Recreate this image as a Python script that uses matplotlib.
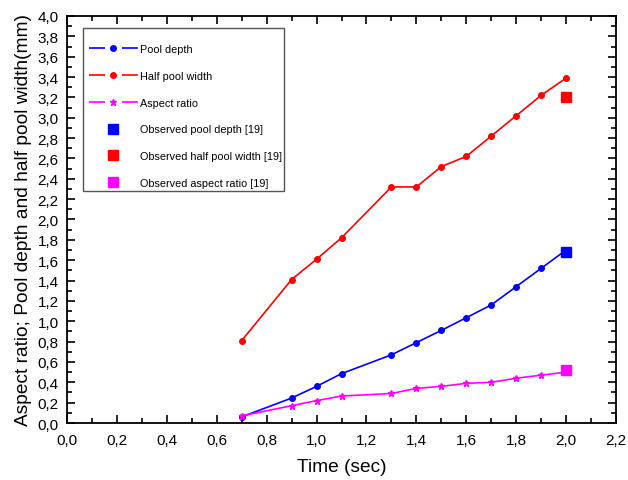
import numpy as np
import matplotlib
matplotlib.use("Agg")
import matplotlib.pyplot as plt
from matplotlib.patches import Rectangle
from matplotlib.ticker import MultipleLocator, FuncFormatter

plt.rcParams['font.family'] = ['Liberation Sans', 'DejaVu Sans']

# simulated values
time = [0.7, 0.9, 1.0, 1.1, 1.3, 1.4, 1.5, 1.6, 1.7, 1.8, 1.9, 2.0]
pool_depth = [0.06, 0.245, 0.36, 0.485, 0.67, 0.79, 0.91, 1.035, 1.16, 1.34, 1.52, 1.70]
half_width = [0.81, 1.41, 1.61, 1.82, 2.32, 2.32, 2.52, 2.62, 2.82, 3.02, 3.22, 3.39]
aspect = [0.07, 0.17, 0.22, 0.265, 0.29, 0.34, 0.36, 0.39, 0.40, 0.44, 0.47, 0.50]

# observed values [19]
obs_time = [2.0]
obs_depth = [1.68]
obs_width = [3.2]
obs_aspect = [0.52]

fig = plt.figure(figsize=(6.28, 4.81), dpi=100)
ax = fig.add_axes([0.1067, 0.1185, 0.8742, 0.8462])

ax.plot(time, pool_depth, '-o', color='#0000ff', lw=1.2, ms=4, label='Pool depth')
ax.plot(time, half_width, '-o', color='#ff0000', lw=1.2, ms=4, label='Half pool width')
ax.plot(time, aspect, '-*', color='#ff00ff', lw=1.2, ms=5, label='Aspect ratio')
ax.plot(obs_time, obs_depth, 's', color='#0000ff', ms=7, ls='none', label='Observed pool depth [19]')
ax.plot(obs_time, obs_width, 's', color='#ff0000', ms=7, ls='none', label='Observed half pool width [19]')
ax.plot(obs_time, obs_aspect, 's', color='#ff00ff', ms=7, ls='none', label='Observed aspect ratio [19]')

ax.set_xlim(0, 2.2)
ax.set_ylim(0, 4.0)
ax.xaxis.set_major_locator(MultipleLocator(0.2))
ax.xaxis.set_minor_locator(MultipleLocator(0.1))
ax.yaxis.set_major_locator(MultipleLocator(0.2))
ax.yaxis.set_minor_locator(MultipleLocator(0.1))
comma = FuncFormatter(lambda v, p: ('%.1f' % v).replace('.', ','))
ax.xaxis.set_major_formatter(comma)
ax.yaxis.set_major_formatter(comma)
ax.tick_params(which='both', direction='in', top=True, right=True, width=1.2, labelsize=11)
ax.tick_params(which='major', length=6)
ax.tick_params(which='minor', length=3.5)
ax.tick_params(axis='x', which='major', pad=7.5)
ax.tick_params(axis='y', which='major', pad=6)
for s in ax.spines.values():
    s.set_linewidth(1.3)

ax.set_xlabel('Time (sec)', fontsize=13.8, labelpad=7.5)
ax.set_ylabel('Aspect ratio; Pool depth and half pool width(mm)', fontsize=13.8, labelpad=4)

# legend box drawn separately so the entries can sit lower inside it
ax.add_patch(Rectangle((0.029, 0.570), 0.366, 0.4005, transform=ax.transAxes,
                       facecolor='white', edgecolor='#555555', lw=1.0, zorder=4))
leg = ax.legend(loc='upper left', bbox_to_anchor=(0.040, 0.931), borderaxespad=0,
                fontsize=7.8, labelspacing=1.55, handlelength=4.5, numpoints=1,
                frameon=False, borderpad=0, handletextpad=0.2)
leg.set_zorder(5)
# line - marker - line with gaps, like the original legend
for ln in leg.get_lines()[:3]:
    ln.set_linestyle((0, (11.5 / 1.2, 12.2 / 1.2)))

fig.savefig('out.png', dpi=100)
